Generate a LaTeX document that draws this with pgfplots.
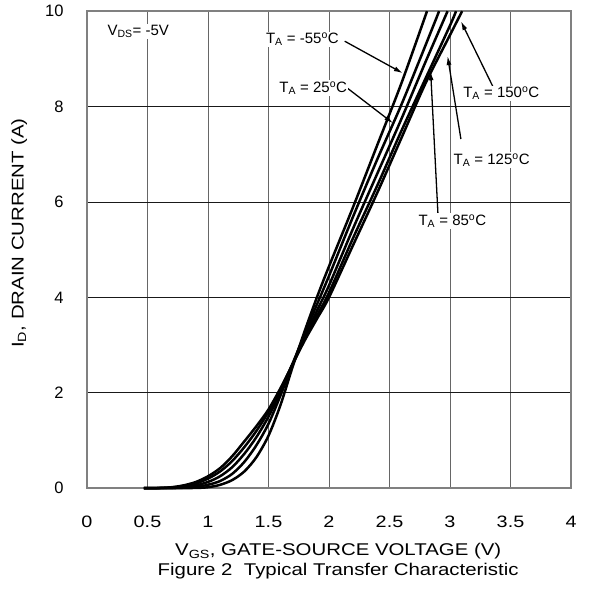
\documentclass[border=0pt]{standalone}
\usepackage{fontspec}
\setmainfont{Liberation Sans}
\newfontfamily\widefont[FakeStretch=1.2]{Liberation Sans}
\usepackage{pgfplots}
\pgfplotsset{compat=1.18}
\usetikzlibrary{arrows.meta}
\begin{document}
\fontsize{16}{19}\selectfont
\begin{tikzpicture}
\begin{axis}[
  width=484pt, height=477pt, scale only axis,
  xmin=0, xmax=4, ymin=0, ymax=10,
  xtick={0,0.5,...,4}, ytick={0,2,...,10},
  xticklabels={0,0.5,1,1.5,2,2.5,3,3.5,4},
  /pgf/number format/assume math mode=true,
  major tick length=0pt,
  grid=major,
  major grid style={line width=0.9pt},
  x grid style={black!60},
  y grid style={black!90},
  axis line style={draw=black!50, line width=1.6pt},
  xticklabel style={font=\widefont\fontsize{16.5}{19}\selectfont, yshift=-22pt},
  yticklabel style={font=\fontsize{16.5}{19}\selectfont, xshift=-18pt},
  clip=false,
  curve/.style={black, line width=2.5pt, smooth, no markers},
]
\coordinate (bl) at (rel axis cs:0,0);
\coordinate (tr) at (rel axis cs:1,1);
% -55 C
\addplot[curve] coordinates {(0.47,0) (0.7,0) (0.9,0.005) (1.0,0.02) (1.1,0.07) (1.2,0.17) (1.3,0.35) (1.4,0.65) (1.5,1.1) (1.6,1.75) (1.7,2.55) (1.8,3.3) (1.9,4.0) (2.0,4.65) (2.2,5.9) (2.4,7.2) (2.6,8.5) (2.81,10)};
% 25 C
\addplot[curve] coordinates {(0.47,0) (0.7,0.002) (0.8,0.01) (0.9,0.03) (1.0,0.07) (1.1,0.15) (1.2,0.3) (1.3,0.55) (1.4,0.9) (1.5,1.35) (1.6,1.95) (1.7,2.6) (1.8,3.25) (1.9,3.85) (2.0,4.45) (2.2,5.7) (2.4,6.9) (2.6,8.05) (2.8,9.3) (2.91,10)};
% 85 C
\addplot[curve] coordinates {(0.47,0) (0.7,0.008) (0.8,0.025) (0.9,0.06) (1.0,0.13) (1.1,0.25) (1.2,0.44) (1.3,0.72) (1.4,1.07) (1.5,1.5) (1.6,2.03) (1.7,2.62) (1.8,3.2) (1.9,3.72) (2.0,4.25) (2.2,5.45) (2.4,6.6) (2.6,7.75) (2.8,8.95) (2.98,10)};
% 125 C
\addplot[curve] coordinates {(0.47,0) (0.6,0.003) (0.7,0.015) (0.8,0.045) (0.9,0.1) (1.0,0.2) (1.1,0.35) (1.2,0.57) (1.3,0.86) (1.4,1.2) (1.5,1.6) (1.6,2.08) (1.7,2.6) (1.8,3.15) (1.9,3.62) (2.0,4.1) (2.2,5.25) (2.4,6.35) (2.6,7.5) (2.8,8.6) (3.0,9.7) (3.05,10)};
% 150 C
\addplot[curve] coordinates {(0.47,0) (0.6,0.005) (0.7,0.02) (0.8,0.06) (0.9,0.13) (1.0,0.25) (1.1,0.42) (1.2,0.67) (1.3,0.98) (1.4,1.3) (1.5,1.65) (1.6,2.1) (1.7,2.6) (1.8,3.1) (1.9,3.55) (2.0,4.0) (2.2,5.1) (2.4,6.2) (2.6,7.35) (2.8,8.5) (3.0,9.5) (3.1,10)};
% annotations
\node[fill=white, inner sep=1pt, anchor=west, font=\fontsize{15}{18}\selectfont] at (axis cs:0.16,9.58) {V\textsubscript{DS}= -5V};
\draw[line width=1.3pt, -{Latex[length=9pt,width=5pt]}] (axis cs:2.13,9.37) -- (axis cs:2.61,8.70);
\draw[line width=1.3pt, -{Latex[length=9pt,width=5pt]}] (axis cs:2.15,8.39) -- (axis cs:2.53,7.65);
\draw[line width=1.3pt, -{Latex[length=9pt,width=5pt]}] (axis cs:3.36,8.39) -- (axis cs:3.09,9.79);
\draw[line width=1.3pt, -{Latex[length=9pt,width=5pt]}] (axis cs:3.09,7.32) -- (axis cs:2.98,9.06);
\draw[line width=1.3pt, -{Latex[length=9pt,width=5pt]}] (axis cs:2.90,5.77) -- (axis cs:2.84,8.74);
\node[fill=white, inner sep=1pt, anchor=west, font=\fontsize{15}{18}\selectfont] at (axis cs:1.47,9.41) {T\textsubscript{A} = -55\textsuperscript{o}C};
\node[fill=white, inner sep=1pt, anchor=west, font=\fontsize{15}{18}\selectfont] at (axis cs:1.58,8.39) {T\textsubscript{A} = 25\textsuperscript{o}C};
\node[fill=white, inner sep=1pt, anchor=west, font=\fontsize{15}{18}\selectfont] at (axis cs:3.10,8.28) {T\textsubscript{A} = 150\textsuperscript{o}C};
\node[fill=white, inner sep=1pt, anchor=west, font=\fontsize{15}{18}\selectfont] at (axis cs:3.02,6.88) {T\textsubscript{A} = 125\textsuperscript{o}C};
\node[fill=white, inner sep=1pt, anchor=west, font=\fontsize{15}{18}\selectfont] at (axis cs:2.73,5.60) {T\textsubscript{A} = 85\textsuperscript{o}C};
% axis labels
\node[anchor=center, font=\widefont\fontsize{17}{20}\selectfont] at (axis description cs:0.519,-0.132) {V\textsubscript{GS}, GATE-SOURCE VOLTAGE (V)};
\node[anchor=center, font=\widefont\fontsize{17}{20}\selectfont] at (axis description cs:0.519,-0.174) {Figure 2\ \ Typical Transfer Characteristic};
\node[anchor=center, rotate=90, font=\widefont\fontsize{17}{20}\selectfont] at (axis description cs:-0.140,0.535) {I\textsubscript{D}, DRAIN CURRENT (A)};
\end{axis}
\path ([shift={(-87pt,-101pt)}]bl) rectangle ([shift={(22pt,10pt)}]tr);
\end{tikzpicture}
\end{document}
